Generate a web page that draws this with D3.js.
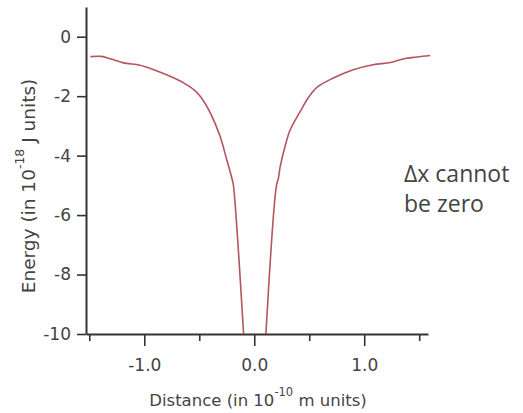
<!DOCTYPE html>
<html>
<head>
<meta charset="utf-8">
<script src="https://cdn.jsdelivr.net/npm/d3@7"></script>
<style>
  body { margin: 0; background: #fff; }
  text { font-family: "DejaVu Sans", Verdana, sans-serif; fill: #444; }
</style>
</head>
<body>
<script>
const w = 523
const h = 413

// left branch of the curve (distance, energy)
const leftDist = [-1.49, -1.39, -1.31, -1.19, -1.04, -0.92, -0.76, -0.64, -0.55, -0.49, -0.40, -0.31, -0.25, -0.20, -0.19, -0.097]
const leftEnergy = [-0.67, -0.66, -0.74, -0.88, -0.96, -1.10, -1.34, -1.56, -1.78, -2.01, -2.56, -3.36, -4.14, -4.81, -4.98, -10]

// right branch
const rightDist = [0.106, 0.20, 0.22, 0.236, 0.28, 0.327, 0.42, 0.49, 0.57, 0.72, 0.90, 1.08, 1.24, 1.36, 1.48, 1.60]
const rightEnergy = [-10, -5.05, -4.75, -4.37, -3.69, -3.13, -2.50, -2.06, -1.70, -1.39, -1.11, -0.94, -0.87, -0.74, -0.68, -0.63]

const xMajor = [-1.0, 0.0, 1.0]
const xMinor = [-1.5, -0.5, 0.5, 1.5]
const yTicks = [0, -2, -4, -6, -8, -10]

const x = d3.scaleLinear()
    .domain([-1.53, 1.58])
    .range([86, 428])

const y = d3.scaleLinear()
    .domain([-10, 1])
    .range([334, 7])

const svg = d3.select('body').append('svg')
    .attr('width', w)
    .attr('height', h)

// minor x ticks first, no labels
svg.append('g')
    .attr('transform', `translate(0,${y(-10)})`)
    .call(d3.axisBottom(x).tickValues(xMinor).tickSize(7).tickFormat(''))
    .call(g => g.select('.domain').remove())
    .call(g => g.selectAll('line').attr('stroke', '#333').attr('stroke-width', 1.6))

const xAxis = svg.append('g')
    .attr('transform', `translate(0,${y(-10)})`)
    .call(d3.axisBottom(x).tickValues(xMajor).tickSize(12).tickSizeOuter(0).tickPadding(13)
        .tickFormat(d3.format('.1f')))

xAxis.select('.domain').attr('stroke', '#333').attr('stroke-width', 2)
xAxis.selectAll('line').attr('stroke', '#333').attr('stroke-width', 1.6)
xAxis.selectAll('text')
    .style('font-size', '17px')
    .attr('fill', '#444')
    .text(d => d === 0 ? '0.0' : d3.format('.1f')(d).replace('−', '-'))

const yAxis = svg.append('g')
    .attr('transform', `translate(${x.range()[0]},0)`)
    .call(d3.axisLeft(y).tickValues(yTicks).tickSize(9).tickSizeOuter(0).tickPadding(6)
        .tickFormat(d => String(d)))

yAxis.select('.domain').attr('stroke', '#333').attr('stroke-width', 2)
yAxis.selectAll('line').attr('stroke', '#333').attr('stroke-width', 1.6)
yAxis.selectAll('text')
    .style('font-size', '17px')
    .attr('fill', '#444')

const line = d3.line()
    .x(d => x(d[0]))
    .y(d => y(d[1]))
    .curve(d3.curveCatmullRom.alpha(0.5))

const left = leftDist.map((d, i) => [d, leftEnergy[i]])
const right = rightDist.map((d, i) => [d, rightEnergy[i]])

svg.selectAll('path.curve')
    .data([left, right])
    .enter()
    .append('path')
    .attr('class', 'curve')
    .attr('d', line)
    .attr('fill', 'none')
    .attr('stroke', '#b4555f')
    .attr('stroke-width', 1.6)

// axis titles
const xt = svg.append('text')
    .attr('x', 258)
    .attr('y', 406)
    .attr('text-anchor', 'middle')
    .style('font-size', '16.5px')
xt.append('tspan').text('Distance (in 10')
xt.append('tspan').attr('dy', -10).style('font-size', '11.5px').text('-10')
xt.append('tspan').attr('dy', 10).text(' m units)')

const yt = svg.append('text')
    .attr('transform', 'translate(35,186) rotate(-90)')
    .attr('text-anchor', 'middle')
    .style('font-size', '18.5px')
yt.append('tspan').text('Energy (in 10')
yt.append('tspan').attr('dy', -11).style('font-size', '12.5px').text('-18')
yt.append('tspan').attr('dy', 11).text(' J units)')

// annotation
const note = svg.append('text')
    .attr('x', 404)
    .style('font-family', '"Open Sans", sans-serif')
    .style('font-size', '23px')
    .attr('fill', '#333')
note.append('tspan').attr('x', 404).attr('y', 182).text('\u0394x cannot')
note.append('tspan').attr('x', 404).attr('y', 212).text('be zero')
</script>
</body>
</html>
